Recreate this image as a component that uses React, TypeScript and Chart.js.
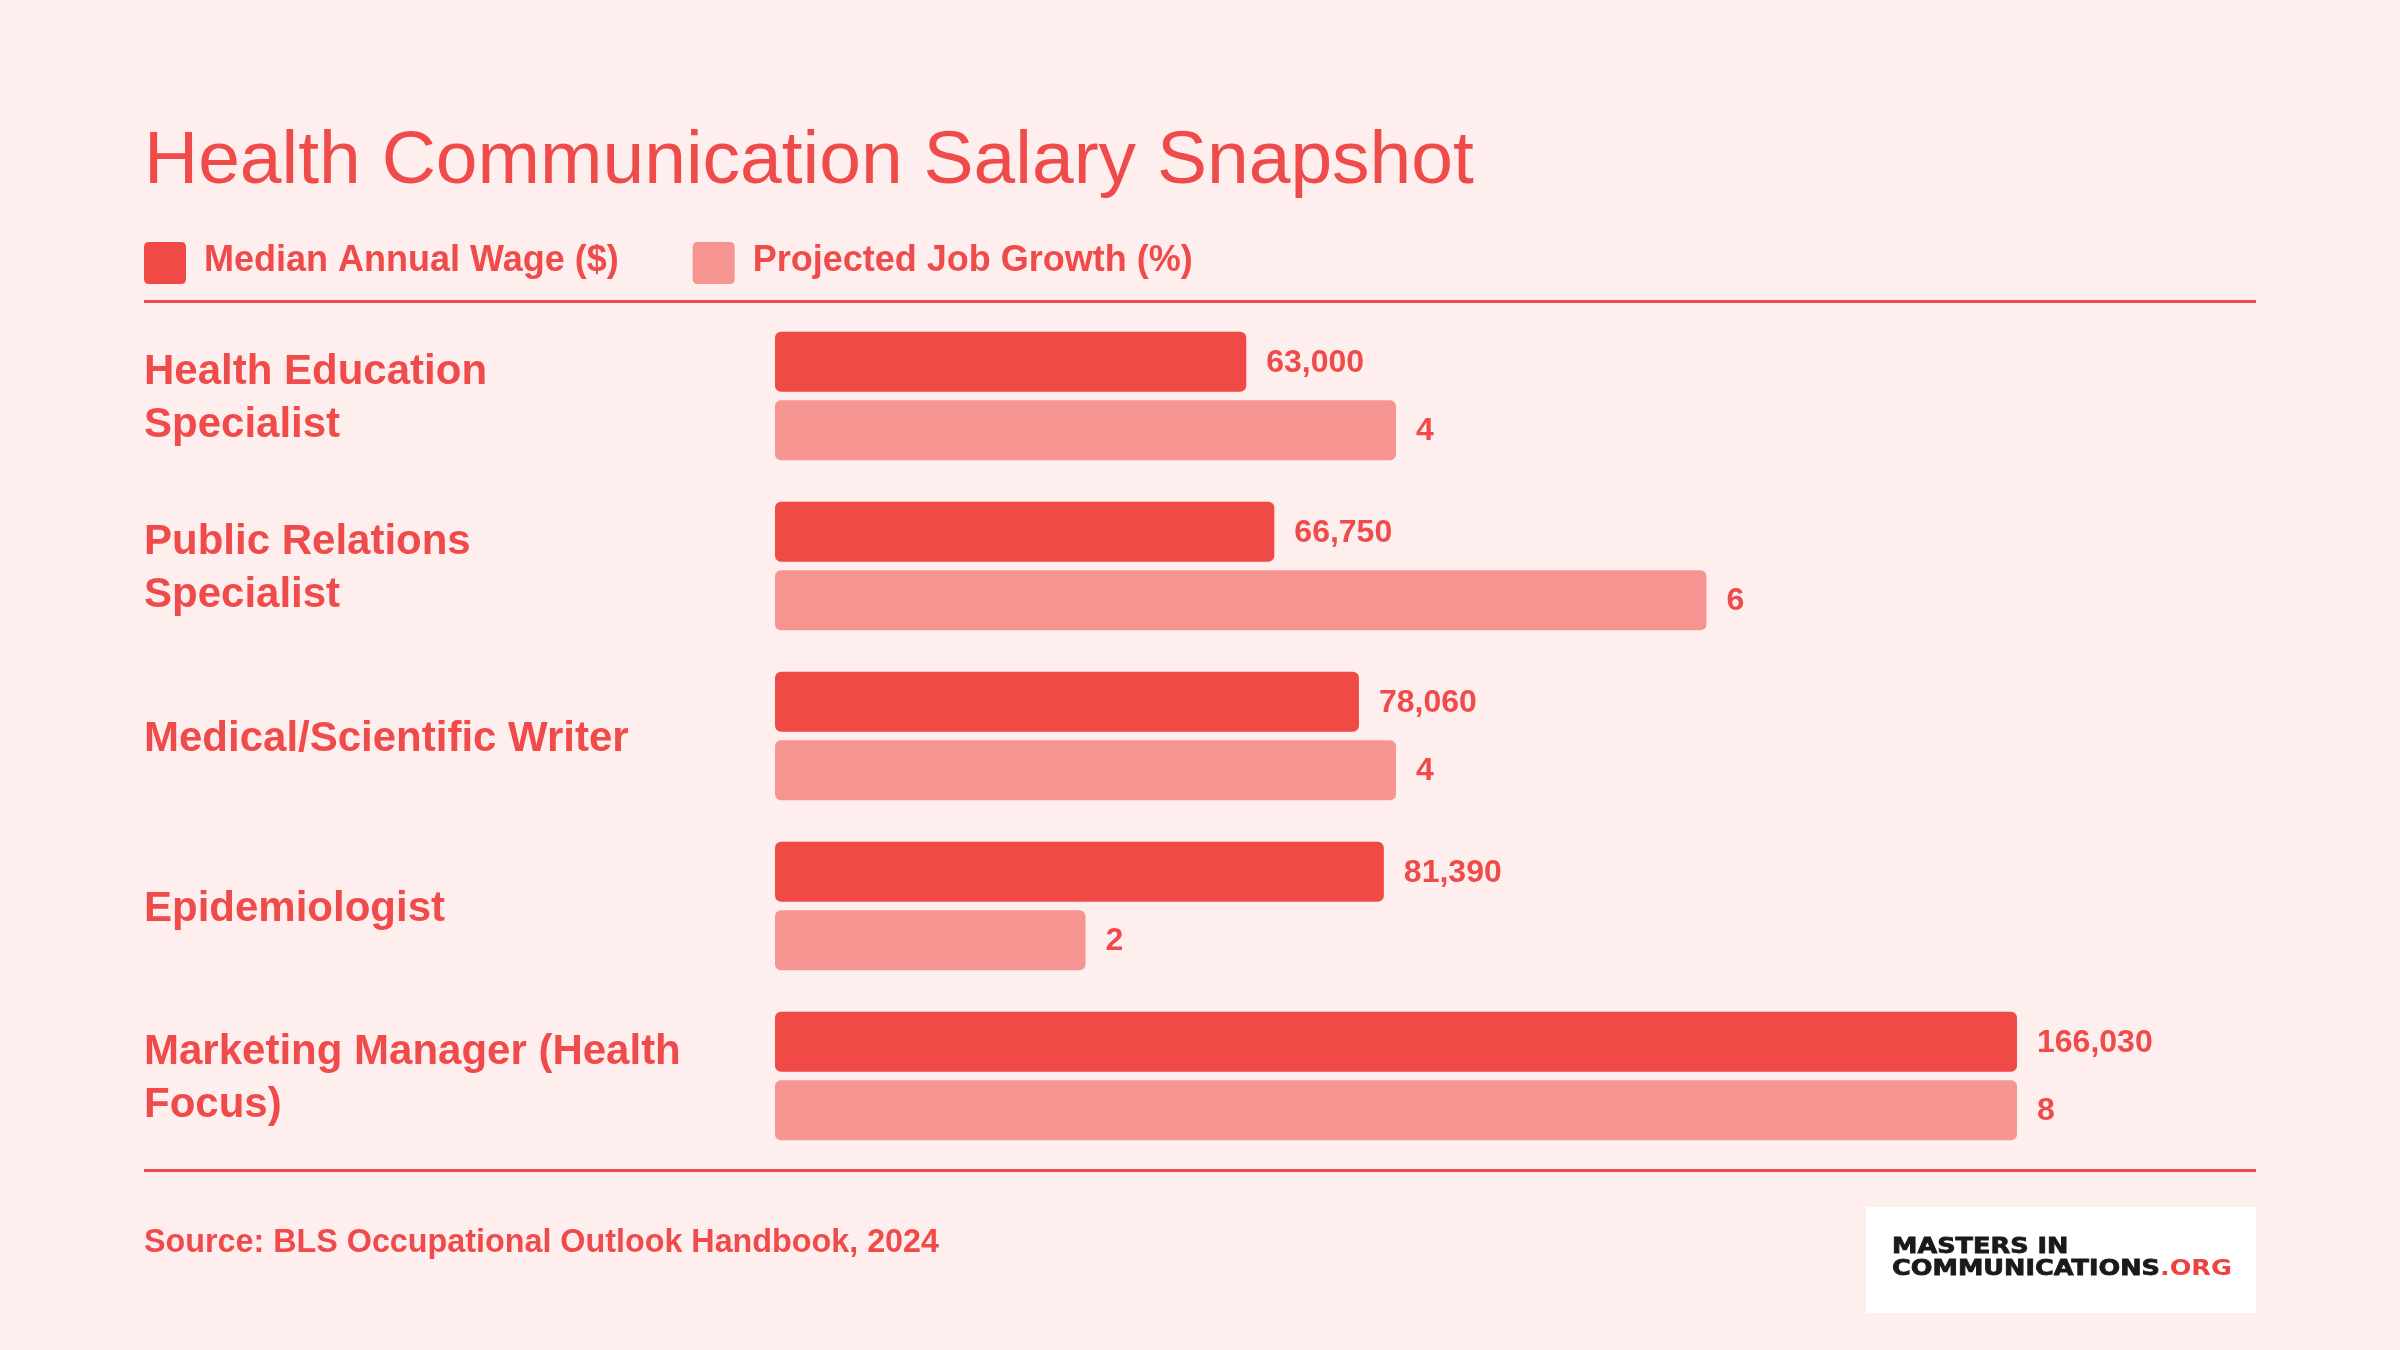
import React, { useEffect, useRef } from 'react';
import { Chart, registerables } from 'chart.js';

Chart.register(...registerables);

const categories: (string | string[])[] = [
  ['Health Education', 'Specialist'],
  ['Public Relations', 'Specialist'],
  'Medical/Scientific Writer',
  'Epidemiologist',
  ['Marketing Manager (Health', 'Focus)'],
];
const wageValues = [63000, 66750, 78060, 81390, 166030];
const growthValues = [4, 6, 4, 2, 8];
const seriesNames = ['Median Annual Wage ($)', 'Projected Job Growth (%)'];
const titleText = 'Health Communication Salary Snapshot';
const sourceText = 'Source: BLS Occupational Outlook Handbook, 2024';
const logoLine1 = 'MASTERS IN';
const logoLine2 = 'COMMUNICATIONS';
const logoSuffix = '.ORG';

const FONT = '"Liberation Sans", Arial, Helvetica, sans-serif';
const BG = '#FEEEEE';
const TEXT = '#EF4B4B';
const WAGE = '#EF4A46';
const GROWTH = '#F59491';

function roundRect(ctx: CanvasRenderingContext2D, x: number, y: number, w: number, h: number, r: number) {
  ctx.beginPath();
  ctx.moveTo(x + r, y);
  ctx.lineTo(x + w - r, y);
  ctx.quadraticCurveTo(x + w, y, x + w, y + r);
  ctx.lineTo(x + w, y + h - r);
  ctx.quadraticCurveTo(x + w, y + h, x + w - r, y + h);
  ctx.lineTo(x + r, y + h);
  ctx.quadraticCurveTo(x, y + h, x, y + h - r);
  ctx.lineTo(x, y + r);
  ctx.quadraticCurveTo(x, y, x + r, y);
  ctx.closePath();
}

const decorPlugin = {
  id: 'decor',
  beforeDraw(chart: any) {
    const ctx = chart.ctx as CanvasRenderingContext2D;
    ctx.save();
    ctx.fillStyle = BG;
    ctx.fillRect(0, 0, chart.width, chart.height);
    ctx.restore();
  },
  afterDraw(chart: any) {
    const ctx = chart.ctx as CanvasRenderingContext2D;
    ctx.save();
    // Title
    ctx.fillStyle = TEXT;
    ctx.textAlign = 'left';
    ctx.textBaseline = 'alphabetic';
    ctx.font = `75px ${FONT}`;
    ctx.fillText(titleText, 144, 183);

    // Legend
    ctx.font = `bold 36px ${FONT}`;
    const colors = [WAGE, GROWTH];
    let lx = 144;
    seriesNames.forEach((name, i) => {
      ctx.fillStyle = colors[i];
      roundRect(ctx, lx, 242, 42, 42, 5);
      ctx.fill();
      ctx.fillStyle = TEXT;
      ctx.fillText(name, lx + 60, 271);
      lx += 60 + ctx.measureText(name).width + 74;
    });

    // Separator lines
    ctx.fillStyle = '#EF4B4B';
    ctx.fillRect(144, 300, 2112, 3);
    ctx.fillRect(144, 1169, 2112, 3);

    // Source
    ctx.fillStyle = TEXT;
    ctx.font = `bold 32.3px ${FONT}`;
    ctx.fillText(sourceText, 144, 1252);

    // Value labels
    ctx.font = `bold 32px ${FONT}`;
    ctx.textBaseline = 'middle';
    chart.data.datasets.forEach((ds: any, di: number) => {
      const meta = chart.getDatasetMeta(di);
      meta.data.forEach((el: any, i: number) => {
        const v = ds.data[i];
        const label = di === 0 ? v.toLocaleString('en-US') : String(v);
        ctx.fillText(label, el.x + 20, el.y + 1);
      });
    });

    // Logo
    ctx.fillStyle = '#FFFFFF';
    ctx.fillRect(1866, 1207, 390, 106);
    ctx.textBaseline = 'alphabetic';
    const boldFont = `bold 21px "DejaVu Sans", ${FONT}`;
    const regFont = `bold 21px "DejaVu Sans", ${FONT}`;
    ctx.font = boldFont;
    const w2 = ctx.measureText(logoLine2).width;
    ctx.font = regFont;
    const wSuf = ctx.measureText(logoSuffix).width;
    const sx = 340 / (w2 + wSuf);
    ctx.translate(1892, 0);
    ctx.scale(sx, 1);
    ctx.fillStyle = '#1A1A1A';
    ctx.strokeStyle = '#1A1A1A';
    ctx.lineWidth = 0.8;
    ctx.font = boldFont;
    ctx.fillText(logoLine1, 0, 1253);
    ctx.strokeText(logoLine1, 0, 1253);
    ctx.fillText(logoLine2, 0, 1275);
    ctx.strokeText(logoLine2, 0, 1275);
    ctx.fillStyle = '#F0413F';
    ctx.font = regFont;
    ctx.fillText(logoSuffix, w2, 1275);
    ctx.restore();
  },
};

export default function App() {
  const ref = useRef<HTMLCanvasElement | null>(null);
  useEffect(() => {
    if (!ref.current) return;
    const chart = new Chart(ref.current, {
      type: 'bar',
      data: {
        labels: categories,
        datasets: [
          {
            label: seriesNames[0],
            data: wageValues,
            backgroundColor: WAGE,
            xAxisID: 'x',
            borderRadius: 6,
            borderSkipped: false,
            categoryPercentage: 0.806,
            barPercentage: 0.876,
          },
          {
            label: seriesNames[1],
            data: growthValues,
            backgroundColor: GROWTH,
            xAxisID: 'x2',
            borderRadius: 6,
            borderSkipped: false,
            categoryPercentage: 0.806,
            barPercentage: 0.876,
          },
        ],
      },
      options: {
        indexAxis: 'y',
        animation: false,
        responsive: false,
        devicePixelRatio: 1,
        layout: { padding: { top: 311, bottom: 189, left: 144, right: 383 } },
        plugins: {
          legend: { display: false },
          title: { display: false },
          tooltip: { enabled: false },
        },
        scales: {
          x: { display: false, min: 0, max: 166030 },
          x2: { display: false, min: 0, max: 8, position: 'top' },
          y: {
            grid: { display: false },
            border: { display: false },
            afterFit: (scale: any) => {
              scale.width = 631;
            },
            ticks: {
              crossAlign: 'far',
              color: TEXT,
              padding: 0,
              labelOffset: 3,
              font: { family: FONT, size: 42, weight: 'bold', lineHeight: 1.25 },
            },
          },
        },
      },
      plugins: [decorPlugin],
    } as any);
    return () => chart.destroy();
  }, []);
  return (
    <canvas
      ref={ref}
      width={2400}
      height={1350}
      style={{ position: 'absolute', left: 0, top: 0, width: 2400, height: 1350 }}
    />
  );
}
